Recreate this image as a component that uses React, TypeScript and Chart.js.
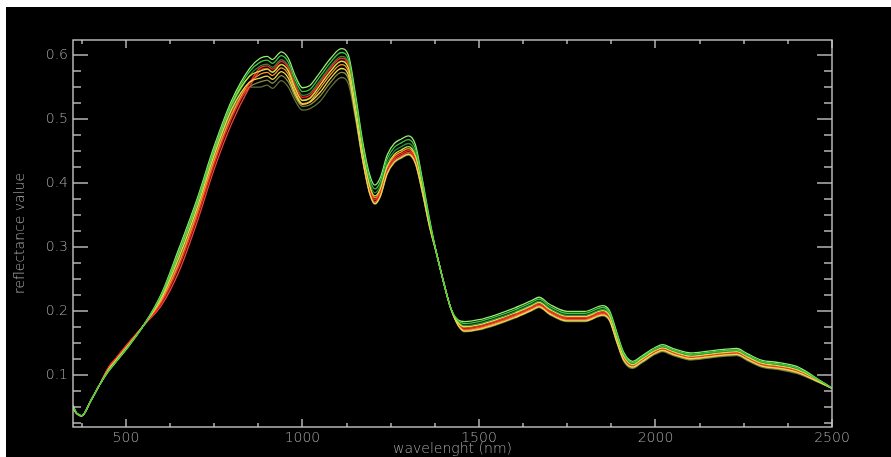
import { useEffect, useRef } from "react";
import { Chart, registerables } from "chart.js";

Chart.register(...registerables);

// Wavelength grid (nm) shared by all reflectance spectra
const WAVELENGTHS = [
  350, 360, 375, 400, 425, 450, 475, 500, 550, 600,
  650, 700, 750, 800, 850, 880, 900, 915, 940, 960,
  980, 1000, 1020, 1050, 1080, 1110, 1130, 1150, 1170, 1190,
  1205, 1220, 1240, 1260, 1280, 1300, 1320, 1340, 1360, 1380,
  1400, 1420, 1440, 1460, 1500, 1550, 1600, 1650, 1670, 1700,
  1750, 1800, 1850, 1870, 1890, 1910, 1935, 1960, 2000, 2020,
  2050, 2100, 2150, 2200, 2230, 2260, 2300, 2350, 2400, 2450,
  2500,
];

const SAMPLE_A = [
  0.054, 0.041, 0.037, 0.060, 0.085, 0.106, 0.123, 0.140, 0.178, 0.227,
  0.298, 0.373, 0.458, 0.530, 0.579, 0.595, 0.598, 0.593, 0.605, 0.595,
  0.567, 0.549, 0.552, 0.573, 0.595, 0.610, 0.600, 0.539, 0.467, 0.414,
  0.397, 0.408, 0.444, 0.462, 0.469, 0.474, 0.460, 0.405, 0.344, 0.290,
  0.245, 0.205, 0.187, 0.184, 0.187, 0.195, 0.205, 0.217, 0.222, 0.211,
  0.200, 0.200, 0.209, 0.201, 0.168, 0.136, 0.122, 0.130, 0.144, 0.148,
  0.142, 0.135, 0.138, 0.141, 0.142, 0.134, 0.124, 0.120, 0.114, 0.098,
  0.080,
];
const SAMPLE_B = [
  0.053, 0.041, 0.037, 0.060, 0.085, 0.107, 0.124, 0.141, 0.178, 0.225,
  0.294, 0.369, 0.454, 0.526, 0.574, 0.589, 0.592, 0.587, 0.599, 0.589,
  0.561, 0.543, 0.546, 0.567, 0.589, 0.604, 0.594, 0.533, 0.461, 0.408,
  0.391, 0.402, 0.438, 0.456, 0.463, 0.468, 0.454, 0.401, 0.341, 0.290,
  0.245, 0.205, 0.186, 0.181, 0.184, 0.192, 0.202, 0.214, 0.219, 0.208,
  0.197, 0.197, 0.206, 0.198, 0.165, 0.134, 0.120, 0.128, 0.142, 0.146,
  0.140, 0.133, 0.136, 0.139, 0.140, 0.132, 0.122, 0.118, 0.112, 0.097,
  0.080,
];
const SAMPLE_C = [
  0.052, 0.041, 0.037, 0.060, 0.085, 0.108, 0.125, 0.142, 0.178, 0.222,
  0.288, 0.363, 0.448, 0.520, 0.568, 0.583, 0.586, 0.581, 0.593, 0.583,
  0.555, 0.537, 0.540, 0.561, 0.583, 0.598, 0.588, 0.527, 0.455, 0.402,
  0.385, 0.396, 0.432, 0.450, 0.457, 0.462, 0.448, 0.397, 0.339, 0.290,
  0.245, 0.205, 0.184, 0.178, 0.181, 0.189, 0.199, 0.211, 0.216, 0.205,
  0.194, 0.194, 0.203, 0.195, 0.162, 0.132, 0.119, 0.127, 0.141, 0.145,
  0.139, 0.132, 0.135, 0.138, 0.139, 0.131, 0.121, 0.117, 0.111, 0.097,
  0.080,
];
const SAMPLE_D = [
  0.051, 0.041, 0.037, 0.060, 0.085, 0.107, 0.124, 0.141, 0.178, 0.224,
  0.292, 0.367, 0.452, 0.524, 0.567, 0.575, 0.578, 0.573, 0.585, 0.575,
  0.547, 0.529, 0.532, 0.553, 0.575, 0.590, 0.580, 0.520, 0.450, 0.397,
  0.380, 0.391, 0.427, 0.445, 0.452, 0.457, 0.443, 0.394, 0.337, 0.290,
  0.245, 0.205, 0.183, 0.176, 0.179, 0.187, 0.197, 0.209, 0.214, 0.203,
  0.192, 0.192, 0.201, 0.193, 0.160, 0.130, 0.117, 0.125, 0.139, 0.143,
  0.137, 0.130, 0.133, 0.136, 0.137, 0.129, 0.119, 0.115, 0.109, 0.096,
  0.080,
];
const SAMPLE_E = [
  0.048, 0.041, 0.037, 0.060, 0.085, 0.112, 0.129, 0.146, 0.178, 0.213,
  0.270, 0.345, 0.430, 0.502, 0.556, 0.580, 0.583, 0.578, 0.590, 0.580,
  0.552, 0.534, 0.537, 0.558, 0.580, 0.595, 0.585, 0.520, 0.444, 0.391,
  0.374, 0.385, 0.421, 0.439, 0.446, 0.451, 0.437, 0.389, 0.335, 0.290,
  0.245, 0.205, 0.182, 0.174, 0.177, 0.185, 0.195, 0.207, 0.212, 0.201,
  0.190, 0.190, 0.199, 0.191, 0.158, 0.128, 0.116, 0.124, 0.138, 0.142,
  0.136, 0.129, 0.132, 0.135, 0.136, 0.128, 0.118, 0.114, 0.108, 0.095,
  0.080,
];
const SAMPLE_F = [
  0.047, 0.041, 0.037, 0.060, 0.085, 0.112, 0.129, 0.146, 0.178, 0.209,
  0.262, 0.337, 0.422, 0.494, 0.550, 0.576, 0.579, 0.574, 0.586, 0.576,
  0.548, 0.530, 0.533, 0.554, 0.576, 0.591, 0.581, 0.516, 0.441, 0.388,
  0.371, 0.382, 0.418, 0.436, 0.443, 0.448, 0.434, 0.387, 0.333, 0.290,
  0.245, 0.205, 0.181, 0.172, 0.175, 0.183, 0.193, 0.205, 0.210, 0.199,
  0.188, 0.188, 0.197, 0.189, 0.156, 0.127, 0.115, 0.123, 0.137, 0.141,
  0.135, 0.128, 0.131, 0.134, 0.135, 0.127, 0.117, 0.113, 0.107, 0.094,
  0.080,
];
const SAMPLE_G = [
  0.049, 0.041, 0.037, 0.060, 0.085, 0.111, 0.128, 0.145, 0.178, 0.216,
  0.276, 0.351, 0.436, 0.508, 0.556, 0.570, 0.573, 0.568, 0.580, 0.570,
  0.542, 0.524, 0.527, 0.548, 0.570, 0.585, 0.575, 0.516, 0.447, 0.394,
  0.377, 0.388, 0.424, 0.442, 0.449, 0.454, 0.440, 0.391, 0.336, 0.290,
  0.245, 0.205, 0.180, 0.171, 0.174, 0.182, 0.192, 0.204, 0.209, 0.198,
  0.187, 0.187, 0.196, 0.188, 0.155, 0.125, 0.114, 0.122, 0.136, 0.140,
  0.134, 0.127, 0.130, 0.133, 0.134, 0.126, 0.116, 0.112, 0.106, 0.094,
  0.080,
];
const SAMPLE_H = [
  0.050, 0.041, 0.037, 0.060, 0.085, 0.109, 0.126, 0.143, 0.178, 0.220,
  0.284, 0.359, 0.444, 0.516, 0.558, 0.564, 0.567, 0.562, 0.574, 0.564,
  0.538, 0.523, 0.526, 0.542, 0.564, 0.579, 0.569, 0.508, 0.438, 0.385,
  0.368, 0.379, 0.415, 0.433, 0.440, 0.445, 0.431, 0.385, 0.332, 0.290,
  0.245, 0.205, 0.179, 0.169, 0.172, 0.180, 0.190, 0.202, 0.207, 0.196,
  0.185, 0.185, 0.194, 0.186, 0.153, 0.124, 0.113, 0.121, 0.135, 0.139,
  0.133, 0.126, 0.129, 0.132, 0.133, 0.125, 0.115, 0.111, 0.105, 0.093,
  0.080,
];
const SAMPLE_I = [
  0.050, 0.041, 0.037, 0.060, 0.085, 0.108, 0.125, 0.142, 0.178, 0.215,
  0.274, 0.349, 0.434, 0.506, 0.550, 0.558, 0.561, 0.556, 0.568, 0.558,
  0.534, 0.520, 0.522, 0.536, 0.558, 0.573, 0.563, 0.506, 0.439, 0.386,
  0.369, 0.380, 0.416, 0.434, 0.441, 0.446, 0.432, 0.386, 0.333, 0.290,
  0.245, 0.205, 0.180, 0.170, 0.173, 0.181, 0.191, 0.203, 0.208, 0.197,
  0.186, 0.186, 0.195, 0.187, 0.154, 0.124, 0.112, 0.120, 0.134, 0.138,
  0.132, 0.125, 0.128, 0.131, 0.132, 0.124, 0.114, 0.110, 0.104, 0.093,
  0.080,
];
const SAMPLE_J = [
  0.051, 0.041, 0.037, 0.060, 0.085, 0.108, 0.125, 0.142, 0.178, 0.218,
  0.280, 0.355, 0.440, 0.512, 0.550, 0.550, 0.553, 0.548, 0.560, 0.550,
  0.528, 0.514, 0.516, 0.528, 0.550, 0.565, 0.555, 0.501, 0.437, 0.384,
  0.367, 0.378, 0.414, 0.432, 0.439, 0.444, 0.430, 0.384, 0.332, 0.290,
  0.245, 0.205, 0.179, 0.168, 0.171, 0.179, 0.189, 0.201, 0.206, 0.195,
  0.184, 0.184, 0.193, 0.185, 0.152, 0.122, 0.111, 0.119, 0.133, 0.137,
  0.131, 0.124, 0.127, 0.130, 0.131, 0.123, 0.113, 0.109, 0.103, 0.092,
  0.080,
];

// Line colours, first entry is drawn on top
const SAMPLE_COLORS = [
  "#3ccc3c", "#c4ea44", "#9ae876", "#ecd850", "#ff2a22",
  "#e8443a", "#ff9a28", "#2e8a40", "#8c8a42", "#5e7038",
];
const SAMPLE_VALUES = [
  SAMPLE_B, SAMPLE_D, SAMPLE_A, SAMPLE_H, SAMPLE_E,
  SAMPLE_F, SAMPLE_G, SAMPLE_C, SAMPLE_I, SAMPLE_J,
];

// Axis ranges and labelled ticks
const X_MIN = 350;
const X_MAX = 2500;
const Y_MIN = 0.0195;
const Y_MAX = 0.6235;
const X_TICKS = [500, 1000, 1500, 2000, 2500];
const Y_TICKS = [0.1, 0.2, 0.3, 0.4, 0.5, 0.6];
const X_MINOR_STEP = 125;
const Y_MINOR_STEP = 0.025;

const X_TITLE = "wavelenght (nm)";
const Y_TITLE = "reflectance value";

const AXIS_COLOR = "#c4c4c4";
const TEXT_COLOR = "#a6a6a6";
const FONT = "200 14px 'DejaVu Sans'";

// Boxed frame with inward ticks on all four sides
const boxAxes = {
  id: "boxAxes",
  afterDatasetsDraw(chart: any) {
    const { ctx, chartArea: a, scales } = chart;
    const xs = scales.x;
    const ys = scales.y;
    ctx.save();
    ctx.strokeStyle = AXIS_COLOR;
    ctx.lineWidth = 1.4;
    const seg = (x1: number, y1: number, x2: number, y2: number) => {
      ctx.beginPath();
      ctx.moveTo(x1, y1);
      ctx.lineTo(x2, y2);
      ctx.stroke();
    };
    ctx.strokeRect(a.left, a.top, a.right - a.left, a.bottom - a.top);

    for (let v = 375; v <= X_MAX; v += X_MINOR_STEP) {
      const px = Math.round(xs.getPixelForValue(v));
      const len = v % 500 === 0 ? 8 : 4;
      seg(px, a.bottom, px, a.bottom - len);
      seg(px, a.top, px, a.top + len);
    }
    for (let k = 1; k * Y_MINOR_STEP <= Y_MAX; k++) {
      const v = k * Y_MINOR_STEP;
      if (v < Y_MIN) continue;
      const py = Math.round(ys.getPixelForValue(v));
      const len = k % 4 === 0 ? 15 : 8;
      seg(a.left, py, a.left + len, py);
      seg(a.right, py, a.right - len, py);
    }

    ctx.fillStyle = TEXT_COLOR;
    ctx.font = FONT;
    ctx.textAlign = "right";
    ctx.textBaseline = "middle";
    for (const v of Y_TICKS) {
      ctx.fillText(v.toFixed(1), a.left - 5, ys.getPixelForValue(v));
    }
    ctx.textAlign = "center";
    ctx.textBaseline = "top";
    for (const v of X_TICKS) {
      ctx.fillText(String(v), xs.getPixelForValue(v), a.bottom + 4);
    }
    ctx.textBaseline = "alphabetic";
    ctx.fillText(X_TITLE, (a.left + a.right) / 2, a.bottom + 26);

    ctx.translate(14, (a.top + a.bottom) / 2);
    ctx.rotate(-Math.PI / 2);
    ctx.textBaseline = "middle";
    ctx.fillText(Y_TITLE, 0, 0);
    ctx.restore();
  },
};

export default function App() {
  const canvasRef = useRef<HTMLCanvasElement | null>(null);

  useEffect(() => {
    const canvas = canvasRef.current;
    if (!canvas) return;
    const chart = new Chart(canvas, {
      type: "line",
      data: {
        datasets: SAMPLE_VALUES.map((vals, i) => ({
          label: `sample ${i + 1}`,
          data: WAVELENGTHS.map((w, j) => ({ x: w, y: vals[j] })),
          borderColor: SAMPLE_COLORS[i],
          borderWidth: 1.3,
          pointRadius: 0,
          fill: false,
          cubicInterpolationMode: "monotone" as const,
        })),
      },
      options: {
        animation: false,
        responsive: false,
        devicePixelRatio: 1,
        layout: { padding: { left: 67, top: 33, right: 59, bottom: 30 } },
        plugins: {
          legend: { display: false },
          tooltip: { enabled: false },
        },
        scales: {
          x: { type: "linear", min: X_MIN, max: X_MAX, display: false },
          y: { type: "linear", min: Y_MIN, max: Y_MAX, display: false },
        },
      },
      plugins: [boxAxes],
    });
    return () => chart.destroy();
  }, []);

  return (
    <div
      style={{
        position: "fixed",
        left: 6,
        top: 7,
        right: 0,
        bottom: 0,
        background: "#000",
        overflow: "hidden",
      }}
    >
      <canvas ref={canvasRef} width={885} height={450} style={{ display: "block" }} />
    </div>
  );
}
